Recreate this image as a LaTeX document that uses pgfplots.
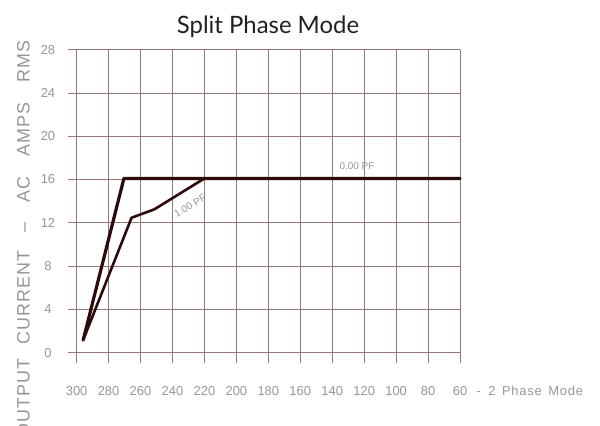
\documentclass[border=0pt]{standalone}
\usepackage{pgfplots}
\pgfplotsset{compat=1.18}
\usepackage{fontspec}
\setmainfont{Liberation Sans}
\newfontfamily\titlefont{Lato}
\newfontfamily\spacedfont[LetterSpace=6]{Liberation Sans}
\definecolor{gridc}{RGB}{150,120,120}
\definecolor{linec}{RGB}{45,10,10}
\definecolor{txtc}{RGB}{150,150,150}
\definecolor{titlec}{RGB}{35,31,32}
\begin{document}
\begin{tikzpicture}[x=1bp,y=1bp]
\begin{axis}[
  at={(68bp,62bp)}, anchor=south west,
  scale only axis, width=392bp, height=313.4bp,
  x dir=reverse,
  xmin=60, xmax=305.4, ymin=-0.95, ymax=28,
  xtick={60,80,...,300},
  xticklabels={{60\rlap{\spacedfont\hspace{0.7em}-\hspace{0.6em}2\hspace{0.5em}Phase\hspace{0.5em}Mode}},80,100,120,140,160,180,200,220,240,260,280,300},
  ytick={0,4,...,28},
  yticklabels={0,4,8,12,16,20,24,28},
  grid=major,
  major grid style={draw=gridc, line width=0.8bp},
  axis line style={draw=none},
  tick style={draw=none},
  xticklabel style={anchor=center, yshift=-27.7bp, font=\fontsize{13}{15}\selectfont, text=txtc},
  yticklabel style={anchor=center, xshift=-20bp, font=\fontsize{13}{15}\selectfont, text=txtc},
  clip=false,
]
\addplot[linec, line width=3.2bp, line join=round, line cap=round] coordinates {
  (295.9,1.17) (270.4,16.1) (60,16.1)
};
\addplot[linec, line width=2.6bp, line join=round, line cap=round] coordinates {
  (295.9,1.17) (265.6,12.47) (251.4,13.24) (220,16.1)
};
\node[text=txtc, font=\fontsize{10}{11}\selectfont] at (axis cs:124.5,17.2) {0.00 PF};
\node[text=txtc, font=\fontsize{10}{11}\selectfont, rotate=30] at (axis cs:229,13.6) {1.00 PF};
\end{axis}
\node[font=\titlefont\fontsize{24}{26}\selectfont, text=titlec, anchor=base] at (268,391) {Split Phase Mode};
\node[font=\spacedfont\fontsize{18}{20}\selectfont, text=txtc, rotate=90, anchor=east, inner sep=0pt] at (23.5,385) {OUTPUT\hspace{14bp}CURRENT\hspace{18bp}–\hspace{20bp}AC\hspace{20bp}AMPS\hspace{20bp}RMS};
\pgfresetboundingbox
\useasboundingbox (0,0) rectangle (600,425);
\end{tikzpicture}
\end{document}
